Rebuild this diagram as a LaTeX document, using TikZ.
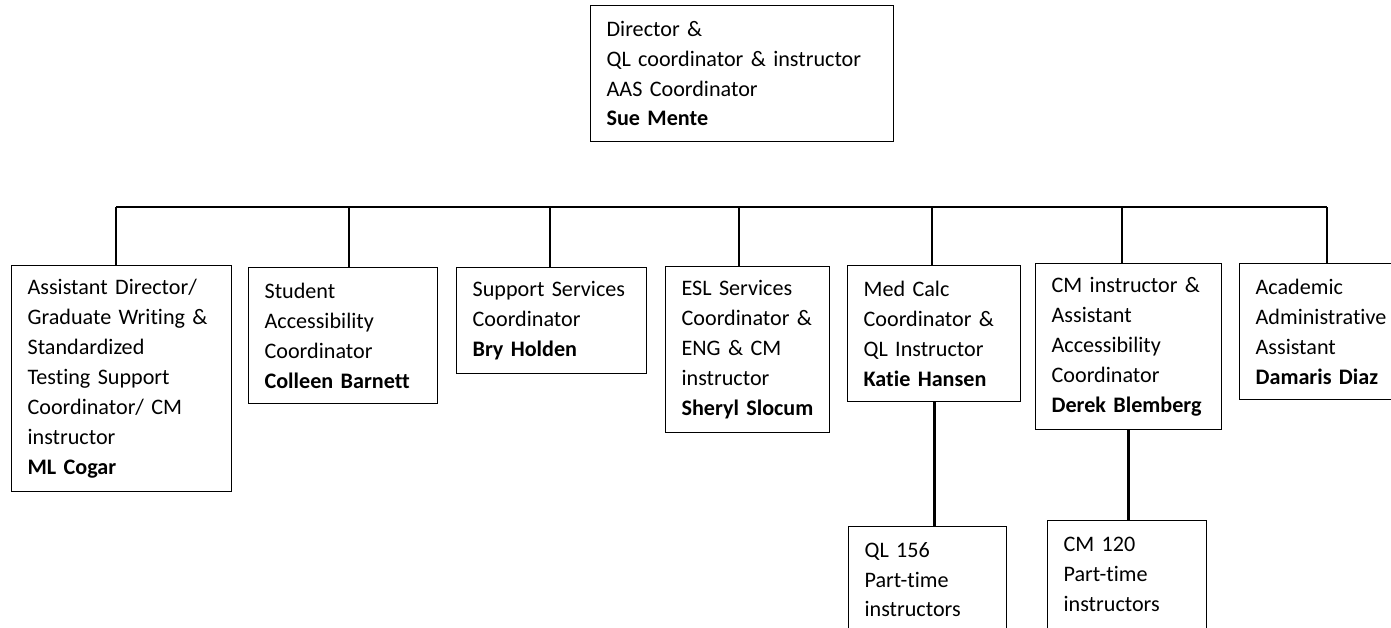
\documentclass[tikz,border=0pt]{standalone}
\usepackage{fontspec}
\setmainfont{Carlito}[WordSpace=0.6, Ligatures=NoCommon]
\usepackage{tikz}
\usetikzlibrary{positioning}
\tikzset{every picture/.style={line width=0.75pt}}
\tikzset{
  post/.style={draw, line width=0.7pt, rectangle, anchor=north west, align=left,
    inner xsep=0.32cm, inner ysep=0pt, font=\fontsize{12.6}{17}\selectfont},
  link/.style={line width=1.6pt}
}

\begin{document}
\begin{tikzpicture}[x=0.02cm,y=-0.02cm]
    \useasboundingbox (0,0) rectangle (1391,627);
    \clip (0,0) rectangle (1391,627);

    \node[post, text width=5.42cm, minimum height=2.72cm] (mente) at (590,5)
      {Director \&\\QL coordinator \& instructor\\AAS Coordinator\\\textbf{Sue Mente}};

    \node[post, text width=3.76cm, minimum height=4.52cm] (cogar) at (11,265)
      {Assistant Director/\\Graduate Writing \&\\Standardized\\Testing Support\\Coordinator/ CM\\instructor\\\textbf{ML Cogar}};
    \node[post, text width=3.14cm, minimum height=2.72cm] (barnett) at (248,267)
      {Student\\Accessibility\\Coordinator\\\textbf{Colleen Barnett}};
    \node[post, text width=3.16cm, minimum height=2.12cm] (holden) at (456,267)
      {Support Services\\Coordinator\\\textbf{Bry Holden}};
    \node[post, text width=2.64cm, minimum height=3.32cm] (slocum) at (665,266)
      {ESL Services\\Coordinator \&\\ENG \& CM\\instructor\\\textbf{Sheryl Slocum}};
    \node[post, text width=2.82cm, minimum height=2.72cm] (hansen) at (847,265)
      {Med Calc\\Coordinator \&\\QL Instructor\\\textbf{Katie Hansen}};
    \node[post, text width=3.08cm, minimum height=3.32cm] (blemberg) at (1035,263)
      {CM instructor \&\\Assistant\\Accessibility\\Coordinator\\\textbf{Derek Blemberg}};
    \node[post, text width=3.2cm, minimum height=2.72cm] (diaz) at (1239,263)
      {Academic\\Administrative\\Assistant\\\textbf{Damaris Diaz}};

    \node[post, text width=2.52cm, minimum height=2.12cm] (ql) at (848,526)
      {QL 156\\Part-time\\instructors};
    \node[post, text width=2.54cm, minimum height=2.16cm] (cm) at (1047,520)
      {CM 120\\Part-time\\instructors};

    \coordinate (b1) at (116,207);
    \coordinate (b2) at (349,207);
    \coordinate (b3) at (550,207);
    \coordinate (b4) at (739,207);
    \coordinate (b5) at (932,207);
    \coordinate (b6) at (1122,207);
    \coordinate (b7) at (1327,207);

    \draw[link] (b1) -- (b7);
    \draw[link] (b1) -- (b1 |- cogar.north);
    \draw[link] (b2) -- (b2 |- barnett.north);
    \draw[link] (b3) -- (b3 |- holden.north);
    \draw[link] (b4) -- (b4 |- slocum.north);
    \draw[link] (b5) -- (b5 |- hansen.north);
    \draw[link] (b6) -- (b6 |- blemberg.north);
    \draw[link] (b7) -- (b7 |- diaz.north);

    \draw[link] (hansen.south) -- (hansen.south |- ql.north);
    \draw[link] (blemberg.south) -- (blemberg.south |- cm.north);
\end{tikzpicture}
\end{document}
